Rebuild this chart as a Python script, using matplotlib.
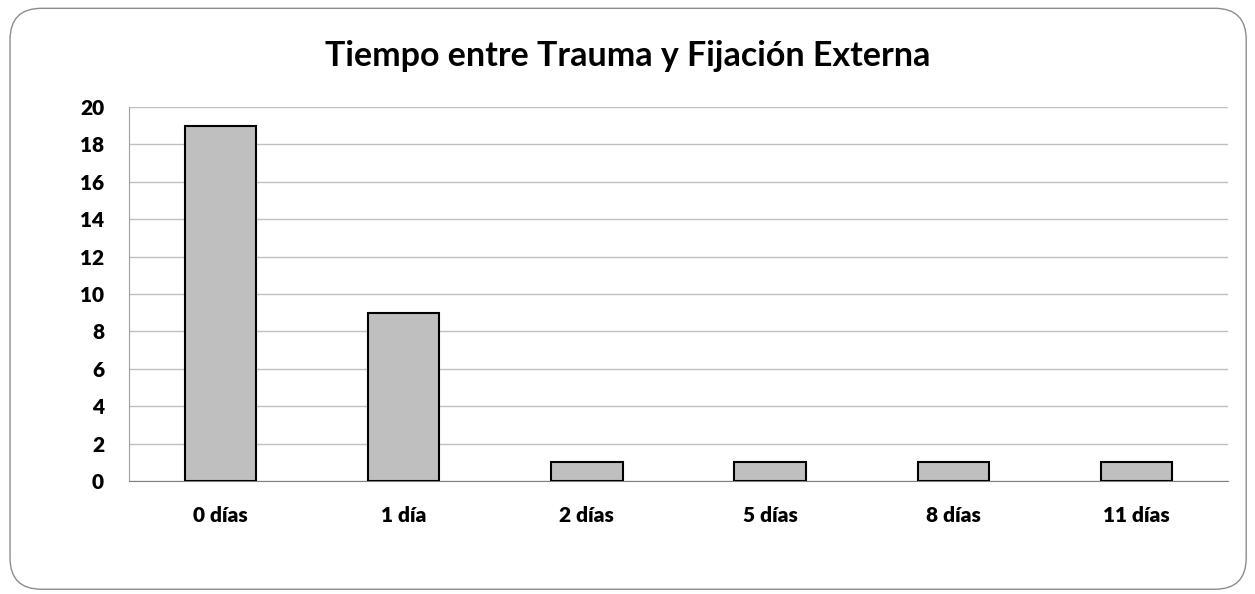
import matplotlib.pyplot as plt
from matplotlib.patches import FancyBboxPatch
import numpy as np

# Datos del gráfico
categorias = ["0 días", "1 día", "2 días", "5 días", "8 días", "11 días"]
valores = [19, 9, 1, 1, 1, 1]
ticks_y = list(range(0, 21, 2))

plt.rcParams['font.family'] = ['Lato', 'DejaVu Sans']

fig = plt.figure(figsize=(12.55, 5.94), dpi=100)

# Marco redondeado del gráfico (detrás de los ejes)
marco = FancyBboxPatch((0.008, 0.008), 0.985, 0.978,
                       boxstyle="round,pad=0,rounding_size=0.025",
                       transform=fig.transFigure, facecolor="white",
                       edgecolor="#8c8c8c", linewidth=1.0,
                       mutation_aspect=2.11, zorder=-5)
fig.patches.append(marco)

ax = fig.add_axes([0.1028, 0.1902, 0.8757, 0.6297])
ax.set_zorder(2)
x = np.arange(len(categorias))
ax.bar(x, valores, width=0.39, color="#bfbfbf", edgecolor="black",
       linewidth=1.5, zorder=3)

ax.set_xlim(-0.5, len(categorias) - 0.5)
ax.set_ylim(0, 20)
ax.set_yticks(ticks_y)
ax.set_yticklabels([str(t) for t in ticks_y], fontsize=15, fontweight="heavy")
ax.set_xticks(x)
ax.set_xticklabels(categorias, fontsize=15, fontweight="heavy")
ax.tick_params(axis="both", length=0)
ax.tick_params(axis="x", pad=18)
ax.tick_params(axis="y", pad=18)

ax.grid(axis="y", color="#c0c0c0", linewidth=1.0, zorder=0)
for lado in ["top", "right"]:
    ax.spines[lado].set_visible(False)
ax.spines["left"].set_color("#a0a0a0")
ax.spines["bottom"].set_color("#808080")
ax.set_facecolor("none")

fig.text(0.5, 0.906, "Tiempo entre Trauma y Fijación Externa",
         ha="center", va="center", fontsize=24.5, fontweight="bold")

fig.savefig("out.png", dpi=100)
